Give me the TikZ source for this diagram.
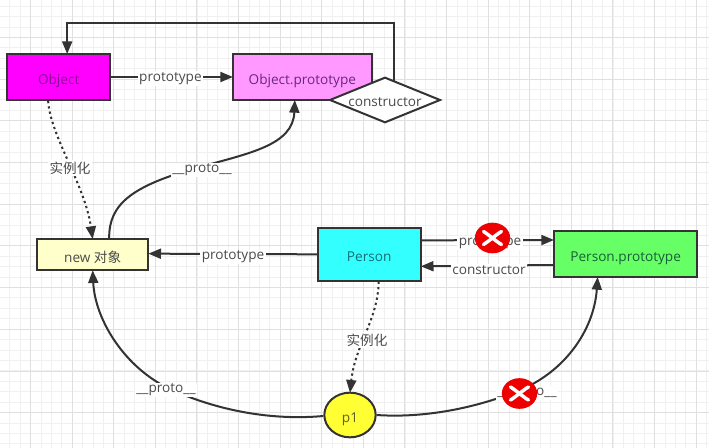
\documentclass[tikz,border=0pt]{standalone}
\usepackage{fontspec}
\setmainfont{Open Sans}
\newfontfamily\cjkfont{Noto Sans CJK SC}
\usetikzlibrary{shapes.geometric,arrows.meta,calc}
\definecolor{ink}{HTML}{333333}
\definecolor{labelink}{HTML}{4A4A4A}
\newcommand{\lowered}[1]{\raisebox{-1.8pt}[\height][0pt]{#1}}
\begin{document}
\begin{tikzpicture}[x=0.75pt,y=-0.75pt,
  every node/.style={font=\fontsize{10.2pt}{12pt}\selectfont,outer sep=0pt},
  boxnode/.style={draw=ink,line width=1.5pt,rectangle,inner sep=0pt,anchor=north west},
  conn/.style={draw=ink,line width=1.5pt,-{Triangle[length=9.5pt,width=7.5pt]}},
  dots/.style={conn,dash pattern=on 1.7pt off 2.3pt},
  lab/.style={fill=white,inner sep=1pt,text=labelink},
  crossmark/.style={ellipse,fill=red!93!black,minimum width=26.5pt,minimum height=23pt,inner sep=0pt},
  crossline/.style={draw=white,line width=2.6pt,line cap=round}]
\useasboundingbox (0,0) rectangle (709,448);
\fill[white] (0,0) rectangle (709,448);
% grid
\foreach \k in {0,...,70}{
  \pgfmathsetmacro\gx{-0.7+10.4*\k}
  \draw[black!6,line width=0.6pt] (\gx,0) -- (\gx,448);}
\foreach \k in {0,...,44}{
  \pgfmathsetmacro\gy{6.1+10.42*\k}
  \draw[black!6,line width=0.6pt] (0,\gy) -- (709,\gy);}
\foreach \k in {0,...,16}{
  \pgfmathsetmacro\gx{30.5+41.6*\k}
  \draw[black!12,line width=0.7pt] (\gx,0) -- (\gx,448);}
\foreach \k in {0,...,10}{
  \pgfmathsetmacro\gy{37.4+41.7*\k}
  \draw[black!12,line width=0.7pt] (0,\gy) -- (709,\gy);}
% boxes
\node[boxnode,fill={rgb,255:red,255;green,0;blue,255},minimum width=77.5pt,minimum height=34.5pt,text={rgb,255:red,135;green,15;blue,150}] (obj) at (7,54) {\lowered{Object}};
\node[boxnode,fill={rgb,255:red,255;green,153;blue,255},minimum width=104pt,minimum height=34.5pt,text={rgb,255:red,105;green,40;blue,125}] (objp) at (233,54) {\lowered{Object.prototype}};
\node[boxnode,fill={rgb,255:red,255;green,255;blue,204},minimum width=83.5pt,minimum height=23.5pt,text=labelink] (newo) at (37,239) {\lowered{new {\cjkfont 对象}}};
\node[boxnode,fill={rgb,255:red,51;green,255;blue,255},minimum width=77.5pt,minimum height=39.5pt,text={rgb,255:red,15;green,110;blue,120}] (per) at (317.5,228) {\lowered{Person}};
\node[boxnode,fill={rgb,255:red,102;green,255;blue,102},minimum width=107.5pt,minimum height=34.5pt,text={rgb,255:red,25;green,95;blue,55}] (perp) at (554,231) {\lowered{Person.prototype}};
\node[ellipse,draw=ink,line width=1.5pt,fill={rgb,255:red,255;green,255;blue,51},minimum width=38.5pt,minimum height=33.5pt,inner sep=0pt,text={rgb,255:red,95;green,95;blue,40}] (p) at (350,415) {\lowered{p1}};
\node[diamond,draw=ink,line width=1.5pt,fill=white,minimum width=82.5pt,minimum height=33.5pt,inner sep=0pt,aspect=2.5,text=labelink] (dia) at (385,100) {\lowered{constructor}};
% connectors
\coordinate (topright) at ($(dia.north)+(9,-55)$);
\draw[conn] ($(dia.north)+(9,3.6)$) -- (topright) -| ($(obj.north)+(8.5,0)$);
\draw[conn] (obj.east) -- node[lab,pos=0.49,yshift=-1.2pt] (l1) {prototype} (objp.west);
\draw[dots] ($(obj.south)+(-10.5,1)$) .. controls (50,135) and (85,185) .. (newo.north);
\draw[conn] ($(newo.north)+(16.5,-1)$) .. controls (109,205) and (130,186) .. (200,167)
  .. controls (250,153) and (293,145) .. ($(objp.south)+(-7.5,0)$);
\draw[conn] (per.west) -- ($(newo.east)+(0,-1)$);
\draw[conn] ($(per.east)+(1,-14)$) -- ($(perp.west)+(0,-14)$);
\draw[conn] ($(perp.west)+(-1,11)$) -- ($(per.east)+(0,12)$);
\draw[dots] ($(per.south)+(9.5,1)$) .. controls (378,320) and (355,345) .. (p.north);
\draw[conn] ($(p.west)+(-1,1)$) .. controls (280,420) and (225,414) .. (170,389)
  .. controls (125,368) and (95,320) .. (newo.south);
\draw[conn] ($(p.east)+(1,0)$) .. controls (420,418) and (470,410) .. (518,391)
  .. controls (565,372) and (594,330) .. ($(perp.south)+(-28,0)$);
% labels
\node[lab] (l2) at (70,168) {\cjkfont 实例化};
\node[lab] (l3) at (202,170) {\_\_proto\_\_};
\node[lab] (l4) at (233,257) {prototype};
\node[lab] (l5) at (490,243) {prototype};
\node[lab] (l6) at (489,270) {constructor};
\node[lab] (l7) at (367,340) {\cjkfont 实例化};
\node[lab] (l8) at (166,390) {\_\_proto\_\_};
\node[lab] (l9) at (527,393) {\_\_proto\_\_};
% red marks
\node[crossmark] (x1) at (492.5,238) {};
\draw[crossline] ($(x1)+(-9,6.5)$) .. controls +(5,-3) and +(-4,2) .. ($(x1)+(9,-6.5)$);
\draw[crossline] ($(x1)+(-9,-6.5)$) .. controls +(5,3) and +(-4,-2) .. ($(x1)+(9,6.5)$);
\node[crossmark] (x2) at (519.5,393.5) {};
\draw[crossline] ($(x2)+(-9,6.5)$) .. controls +(5,-3) and +(-4,2) .. ($(x2)+(9,-6.5)$);
\draw[crossline] ($(x2)+(-9,-6.5)$) .. controls +(5,3) and +(-4,-2) .. ($(x2)+(9,6.5)$);
\end{tikzpicture}
\end{document}
